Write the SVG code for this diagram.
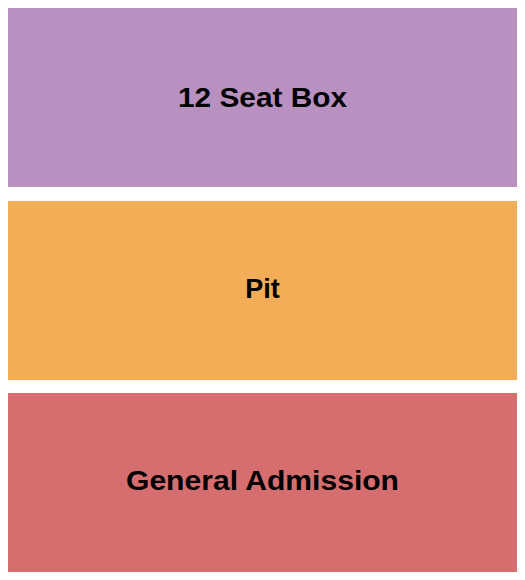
<svg xmlns="http://www.w3.org/2000/svg" width="525" height="580" viewBox="0 0 525 580">
<style>
.sec{stroke:none}
.lbl{font-family:"Liberation Sans",Arial,sans-serif;font-weight:bold;font-size:27px;fill:#000;text-anchor:middle}
</style>
<rect width="525" height="580" fill="#fff"/>
<g id="box12">
<rect class="sec" x="8" y="8" width="509" height="179" fill="#B891C0"/>
<text class="lbl" x="262.5" y="107" textLength="169" lengthAdjust="spacingAndGlyphs">12 Seat Box</text>
</g>
<g id="pit">
<rect class="sec" x="8" y="201" width="509" height="179" fill="#F3AD57"/>
<text class="lbl" x="262.5" y="298">Pit</text>
</g>
<g id="ga">
<rect class="sec" x="8" y="393" width="509" height="179" fill="#D66E6F"/>
<text class="lbl" x="262.5" y="490" textLength="273" lengthAdjust="spacingAndGlyphs">General Admission</text>
</g>
<g id="connectors"/>
</svg>
